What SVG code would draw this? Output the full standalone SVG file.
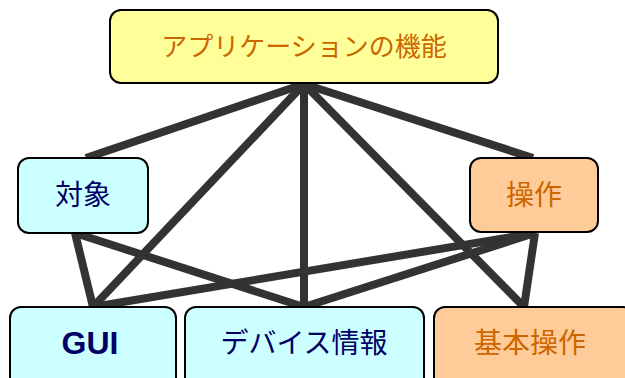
<svg xmlns="http://www.w3.org/2000/svg" width="625" height="378" viewBox="0 0 625 378">
<style>
.box{stroke:#000;stroke-width:2}
.y{fill:#FFFF99}.c{fill:#CCFFFF}.o{fill:#FFCC99}
.t{font-family:"Noto Sans CJK JP","Liberation Sans",sans-serif;font-size:28px;text-anchor:middle}
.tb{fill:#000066}.to{fill:#CC6600}
.ln{stroke:#333333;stroke-width:8;fill:none}
</style>
<rect width="625" height="378" fill="#fff"/>
<g id="connectors">
<line class="ln" x1="304" y1="84" x2="86" y2="158"/>
<line class="ln" x1="304" y1="84" x2="533" y2="158"/>
<line class="ln" x1="304" y1="84" x2="93" y2="307"/>
<line class="ln" x1="304" y1="84" x2="304" y2="307"/>
<line class="ln" x1="304" y1="84" x2="524" y2="307"/>
<line class="ln" x1="75" y1="233" x2="93" y2="307"/>
<line class="ln" x1="75" y1="233" x2="304" y2="307"/>
<line class="ln" x1="535" y1="233" x2="93" y2="307"/>
<line class="ln" x1="535" y1="233" x2="304" y2="307"/>
<line class="ln" x1="535" y1="233" x2="524" y2="307"/>
</g>
<g id="app">
<rect class="box y" x="110" y="10" width="388" height="73" rx="11"/>
<text class="t to" x="304" y="56" style="font-size:26px">アプリケーションの機能</text>
</g>
<g id="taisho">
<rect class="box c" x="18" y="158" width="130" height="75" rx="11"/>
<text class="t tb" x="83" y="205">対象</text>
</g>
<g id="sosa">
<rect class="box o" x="470" y="158" width="128" height="74" rx="11"/>
<text class="t to" x="534" y="205">操作</text>
</g>
<g id="gui">
<rect class="box c" x="10" y="307" width="166" height="85" rx="11"/>
<text x="90" y="354" style="font-family:'Liberation Sans',Arial,sans-serif;font-weight:bold;font-size:32px;text-anchor:middle;fill:#000066">GUI</text>
</g>
<g id="device">
<rect class="box c" x="185" y="307" width="239" height="85" rx="11"/>
<text class="t tb" x="304" y="353">デバイス情報</text>
</g>
<g id="kihon">
<rect class="box o" x="434" y="307" width="200" height="85" rx="11"/>
<text class="t to" x="530" y="353">基本操作</text>
</g>
</svg>
